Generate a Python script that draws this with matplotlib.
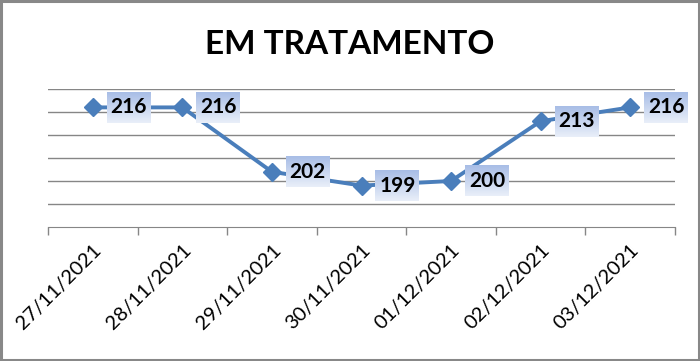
import matplotlib
matplotlib.use("Agg")
import matplotlib.pyplot as plt
import numpy as np
from matplotlib.patches import Rectangle

dates = ["27/11/2021", "28/11/2021", "29/11/2021", "30/11/2021",
         "01/12/2021", "02/12/2021", "03/12/2021"]
values = [216, 216, 202, 199, 200, 213, 216]
title = "EM TRATAMENTO"

LINE = "#4a7ebb"
GRID = "#868686"
FONT = ["Lato", "DejaVu Sans"]

fig = plt.figure(figsize=(7.0, 3.61), dpi=100)
fig.patches.append(Rectangle((0.002, 0.003), 0.996, 0.994, transform=fig.transFigure,
                             fill=False, ec="#888888", lw=2.2))
ax = fig.add_axes([48 / 700, 1 - 227 / 361, 627 / 700, 138 / 361])

x = np.arange(len(values))
ax.plot(x, values, "-D", color=LINE, lw=2.8, ms=9, mfc=LINE, mec=LINE,
        zorder=3, clip_on=False)

ax.set_xlim(-0.5, len(values) - 0.5)
ax.set_ylim(190, 220)
ax.set_yticks(np.arange(195, 221, 5))
ax.yaxis.grid(True, color=GRID, lw=1)
ax.tick_params(axis="y", length=0, labelleft=False)
ax.set_xticks(x)
ax.set_xticklabels(dates, rotation=45, ha="right", rotation_mode="anchor",
                   fontsize=14.5, family=FONT)
ax.tick_params(axis="x", length=0, pad=10)
ax.set_xticks(np.arange(-0.5, len(values)), minor=True)
ax.tick_params(axis="x", which="minor", length=6, color=GRID, width=1)
for s in ["left", "right", "top"]:
    ax.spines[s].set_visible(False)
ax.spines["bottom"].set_color(GRID)

# gradient label boxes to the right of each point
grad = np.linspace(0, 1, 64).reshape(-1, 1)
cmap = matplotlib.colors.LinearSegmentedColormap.from_list(
    "lbl", ["#e9eff9", "#a8bde6"])
bw, bh = 0.49, 6.7
for xi, v in zip(x, values):
    x0 = xi + 0.156
    ax.imshow(grad, cmap=cmap, extent=[x0, x0 + bw, v - bh / 2, v + bh / 2],
              origin="lower", aspect="auto", zorder=4, clip_on=False)
    ax.text(x0 + bw / 2, v, str(v), ha="center", va="center", fontsize=15,
            fontweight="bold", family=FONT, zorder=5)
ax.set_xlim(-0.5, len(values) - 0.5)
ax.set_ylim(190, 220)

fig.text(0.5, 1 - 44 / 361, title, ha="center", va="center", fontsize=24,
         fontweight="bold", family=FONT)

fig.savefig("out.png", dpi=100)
